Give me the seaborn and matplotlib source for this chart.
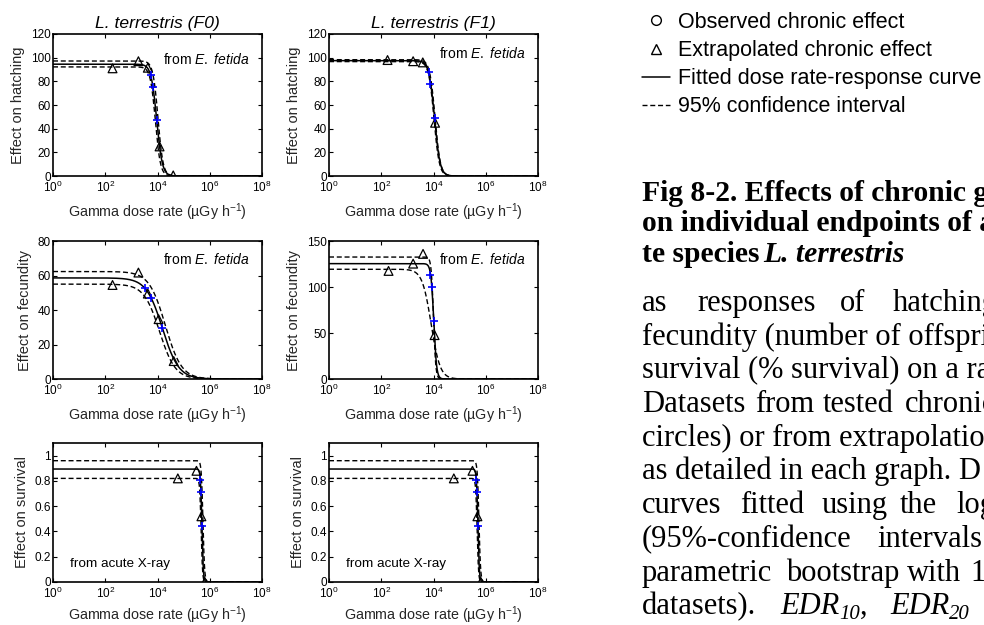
import numpy as np
import matplotlib
matplotlib.use("Agg")
import matplotlib.pyplot as plt
import seaborn as sns
from matplotlib.lines import Line2D
from matplotlib.ticker import FixedLocator, FuncFormatter, LogFormatterSciNotation, NullLocator

# ---------------------------------------------------------------- data
col_titles = ["L. terrestris (F0)", "L. terrestris (F1)"]
row_ylabels = ["Effect on hatching", "Effect on fecundity", "Effect on survival"]
row_source = ["from $\\mathit{E.\\ fetida}$", "from $\\mathit{E.\\ fetida}$", "from acute X-ray"]
row_ylims = [120, 80, 1.1]
row_yticks_f0 = [[0, 20, 40, 60, 80, 100, 120], [0, 20, 40, 60, 80], [0, 0.2, 0.4, 0.6, 0.8, 1]]
row_yticks_f1 = [[0, 20, 40, 60, 80, 100, 120], [0, 50, 100, 150], [0, 0.2, 0.4, 0.6, 0.8, 1]]
fec_f1_ylim = 150
x_ticks = [1e0, 1e2, 1e4, 1e6, 1e8]

# extrapolated chronic effects (triangles)
hatch_f0_dose = [190, 1860, 4260, 12000, 40000]
hatch_f0_eff = [91, 97, 91.5, 25, 0.5]
hatch_f1_dose = [174, 1660, 3890, 11500]
hatch_f1_eff = [98, 97, 96, 45]
fec_f0_dose = [190, 1860, 4260, 11000, 41700]
fec_f0_eff = [54.5, 61.7, 49.5, 34.7, 10.4]
fec_f1_dose = [190, 1660, 3980, 11000]
fec_f1_eff = [117.5, 125.4, 136, 47.7]
surv_f0_dose = [60000, 310000, 480000, 650000]
surv_f0_eff = [0.82, 0.88, 0.52, 0.0]
surv_f1_dose = [60000, 310000, 480000, 650000]
surv_f1_eff = [0.82, 0.88, 0.52, 0.0]

# EDR10 / EDR20 / EDR50 (blue crosses)
hatch_f0_edr = [5500, 6600, 9330]
hatch_f0_edr_eff = [85.0, 75.6, 47.2]
hatch_f1_edr = [6600, 7590, 10960]
hatch_f1_edr_eff = [87.8, 78.0, 48.8]
fec_f0_edr = [3390, 5500, 15500]
fec_f0_edr_eff = [52.7, 46.9, 29.3]
fec_f1_edr = [7590, 8700, 10230]
fec_f1_edr_eff = [112.9, 100.3, 62.7]
surv_f0_edr = [436000, 468000, 501000]
surv_f0_edr_eff = [0.805, 0.715, 0.447]
surv_f1_edr = [436000, 468000, 501000]
surv_f1_edr_eff = [0.805, 0.715, 0.447]

# fitted log-logistic curves: [top, log10(EDR50), slope]; 95% CI bounds
hatch_f0_fit, hatch_f0_hi, hatch_f0_lo = [94.5, 3.97, 4.1], [97.2, 4.02, 4.5], [92.2, 3.92, 4.5]
hatch_f1_fit, hatch_f1_hi, hatch_f1_lo = [97.5, 4.04, 4.1], [98.3, 4.06, 4.3], [96.7, 4.02, 4.3]
fec_f0_fit, fec_f0_hi, fec_f0_lo = [58.6, 4.19, 1.4], [62.3, 4.30, 1.4], [55.0, 4.08, 1.45]
fec_f1_fit, fec_f1_hi, fec_f1_lo = [125.4, 4.01, 8.0], [132.6, 4.00, 10.0], [119.3, 3.91, 2.55]
surv_f0_fit, surv_f0_hi, surv_f0_lo = [0.894, 5.70, 16.0], [0.96, 5.74, 14.0], [0.82, 5.67, 16.0]
surv_f1_fit, surv_f1_hi, surv_f1_lo = [0.894, 5.70, 16.0], [0.96, 5.74, 14.0], [0.82, 5.67, 16.0]

legend_labels = ["Observed chronic effect", "Extrapolated chronic effect",
                 "Fitted dose rate-response curve", "95% confidence interval"]

panels = [
    [(hatch_f0_dose, hatch_f0_eff, hatch_f0_edr, hatch_f0_edr_eff, hatch_f0_fit, hatch_f0_hi, hatch_f0_lo),
     (hatch_f1_dose, hatch_f1_eff, hatch_f1_edr, hatch_f1_edr_eff, hatch_f1_fit, hatch_f1_hi, hatch_f1_lo)],
    [(fec_f0_dose, fec_f0_eff, fec_f0_edr, fec_f0_edr_eff, fec_f0_fit, fec_f0_hi, fec_f0_lo),
     (fec_f1_dose, fec_f1_eff, fec_f1_edr, fec_f1_edr_eff, fec_f1_fit, fec_f1_hi, fec_f1_lo)],
    [(surv_f0_dose, surv_f0_eff, surv_f0_edr, surv_f0_edr_eff, surv_f0_fit, surv_f0_hi, surv_f0_lo),
     (surv_f1_dose, surv_f1_eff, surv_f1_edr, surv_f1_edr_eff, surv_f1_fit, surv_f1_hi, surv_f1_lo)],
]

# ---------------------------------------------------------------- style
sns.set_style("ticks")
plt.rcParams["font.family"] = ["Liberation Sans", "DejaVu Sans"]
plt.rcParams["mathtext.fontset"] = "custom"
plt.rcParams["mathtext.rm"] = "Liberation Sans"
plt.rcParams["mathtext.it"] = "Liberation Sans:italic"
plt.rcParams["mathtext.bf"] = "Liberation Sans:bold"
plt.rcParams["axes.edgecolor"] = "black"
plt.rcParams["xtick.color"] = "black"
plt.rcParams["ytick.color"] = "black"
plt.rcParams["text.color"] = "black"

W, H = 984, 625
fig = plt.figure(figsize=(W / 100, H / 100), dpi=100)
fig.patch.set_facecolor("white")

col_left = [53, 329]
ax_w = 209
rows_tb = [(34, 176), (241, 379), (443, 582)]

xgrid = np.logspace(0, 8, 1500)


def loglogistic(x, p):
    top, le50, b = p
    return top / (1.0 + (x / 10.0 ** le50) ** b)


dash = (0, (3.6, 2.0))

for r, (top_px, bot_px) in enumerate(rows_tb):
    for c in range(2):
        ax = fig.add_axes([col_left[c] / W, 1 - bot_px / H, ax_w / W, (bot_px - top_px) / H])
        dose, eff, edr, edr_eff, fit, hi, lo = panels[r][c]
        sns.lineplot(x=xgrid, y=loglogistic(xgrid, hi), ax=ax, color="k", lw=1.0,
                     linestyle=dash, estimator=None)
        sns.lineplot(x=xgrid, y=loglogistic(xgrid, lo), ax=ax, color="k", lw=1.0,
                     linestyle=dash, estimator=None)
        sns.lineplot(x=xgrid, y=loglogistic(xgrid, fit), ax=ax, color="k", lw=1.1,
                     estimator=None)
        sns.scatterplot(x=dose, y=eff, ax=ax, marker="^", s=40, color="k",
                        facecolors="none", edgecolor="k", linewidth=0.9, zorder=4)
        sns.scatterplot(x=edr, y=edr_eff, ax=ax, marker="+", s=30, color="#0000ff",
                        linewidth=1.2, zorder=5)
        ax.set_xscale("log")
        ax.set_xlim(1, 1e8)
        ax.xaxis.set_major_locator(FixedLocator(x_ticks))
        ax.xaxis.set_major_formatter(LogFormatterSciNotation())
        ax.xaxis.set_minor_locator(NullLocator())
        ymax = row_ylims[r]
        yt = row_yticks_f0[r] if c == 0 else row_yticks_f1[r]
        if r == 1 and c == 1:
            ymax = fec_f1_ylim
        ax.set_ylim(0, ymax)
        ax.yaxis.set_major_locator(FixedLocator(yt))
        ax.yaxis.set_major_formatter(FuncFormatter(lambda v, p: "%g" % v))
        ax.tick_params(axis="both", which="both", direction="in", top=True, right=True,
                       length=3, width=0.8, labelsize=8.5)
        ax.tick_params(axis="x", pad=2.5)
        ax.tick_params(axis="y", pad=1.5)
        for s in ax.spines.values():
            s.set_linewidth(1.2)
            s.set_visible(True)
        ax.set_xlabel("Gamma dose rate (\u00b5Gy h$^{\\mathdefault{-1}}$)", fontsize=10.3,
                      labelpad=5 if r < 2 else 2.5)
        ax.set_ylabel(row_ylabels[r], fontsize=10.5, labelpad=4)
        if r == 0:
            ax.set_title(col_titles[c], fontsize=12.6, fontstyle="italic", pad=4)
        if r < 2:
            ty = 0.82 if (r == 0 and c == 0) else 0.865
            ax.text(0.525, ty, row_source[r], transform=ax.transAxes, fontsize=10,
                    va="center", ha="left")
        else:
            ax.text(0.08, 0.13, row_source[r], transform=ax.transAxes, fontsize=9.7,
                    va="center", ha="left")

# ---------------------------------------------------------------- legend
handles = [
    Line2D([], [], ls="none", marker="o", mfc="none", mec="k", ms=7, mew=1.0),
    Line2D([], [], ls="none", marker="^", mfc="none", mec="k", ms=7, mew=1.0),
    Line2D([], [], color="k", lw=1.1),
    Line2D([], [], color="k", lw=1.0, ls=dash),
]
fig.legend(handles, legend_labels, loc="upper left", bbox_to_anchor=(642 / W, 1 - 12 / H),
           frameon=False, fontsize=15.5, handlelength=1.3, handletextpad=0.35,
           labelspacing=0.33, borderpad=0, borderaxespad=0)

# ---------------------------------------------------------------- caption text
renderer = fig.canvas.get_renderer()
serif = ["Liberation Serif", "DejaVu Serif"]
FS = 22.0
FSH = 21.3


def put_runs(x_px, y_px, runs, size=FS):
    x = x_px
    for txt, style, weight, dy, scale in runs:
        t = fig.text(x / W, 1 - (y_px + dy) / H, txt, fontsize=size * scale, family=serif,
                     style=style, weight=weight, va="baseline", ha="left")
        x += t.get_window_extent(renderer).width


def put_words(y_px, words, style="normal", weight="normal", size=FS):
    for x_px, w in words:
        fig.text(x_px / W, 1 - y_px / H, w, fontsize=size, family=serif, style=style,
                 weight=weight, va="baseline", ha="left")


put_words(201, [(642, "Fig 8-2. Effects of chronic gamma")], weight="bold", size=FSH)
put_words(231, [(642, "on individual endpoints of an")], weight="bold", size=FSH)
put_words(262, [(642, "te species")], weight="bold", size=FSH)
put_words(262, [(763, "L. terrestris")], style="italic", weight="bold", size=FSH)

base = 311
step = 33.7
put_words(base + 0 * step, [(642, "as"), (697, "responses"), (840, "of"), (893, "hatching")])
put_words(base + 1 * step, [(642, "fecundity (number of offspring")])
put_words(base + 2 * step, [(642, "survival (% survival) on a range")])
put_words(base + 3 * step, [(642, "Datasets"), (755, "from"), (823, "tested"), (905, "chronic")])
put_words(base + 4 * step, [(642, "circles) or from extrapolation")])
put_words(base + 5 * step, [(642, "as detailed in each graph. D")])
put_words(base + 6 * step, [(642, "curves"), (740, "fitted"), (822, "using"), (900, "the"),
                            (956, "log")])
put_words(base + 7 * step, [(642, "(95%-confidence"), (877, "intervals")])
put_words(base + 8 * step, [(642, "parametric"), (786, "bootstrap"), (907, "with"), (970, "1000")])
put_words(base + 9 * step, [(642, "datasets).")])
put_runs(780, base + 9 * step, [("EDR", "italic", "normal", 0, 1.0),
                                ("10", "italic", "normal", 5, 0.68),
                                (",", "normal", "normal", 0, 1.0)])
put_runs(890, base + 9 * step, [("EDR", "italic", "normal", 0, 1.0),
                                ("20", "italic", "normal", 5, 0.68)])

fig.savefig("out.png", dpi=100, facecolor="white")
